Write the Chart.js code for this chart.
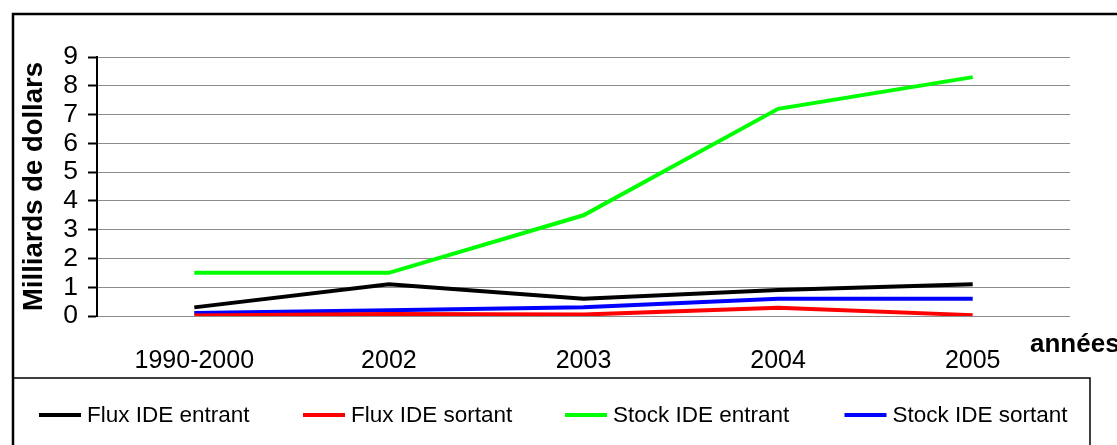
<!DOCTYPE html>
<html>
<head>
<meta charset="utf-8">
<title>IDE</title>
<script src="https://cdn.jsdelivr.net/npm/chart.js@4/dist/chart.umd.min.js"></script>
<style>
  html, body { margin: 0; padding: 0; background: #ffffff; overflow: hidden; }
  #wrap { position: relative; width: 1117px; height: 445px; }
</style>
</head>
<body>
<div id="wrap"><canvas id="chart"></canvas></div>
<script>
// Années et séries (milliards de dollars)
const categories = ['1990-2000', '2002', '2003', '2004', '2005'];
const fluxEntrant  = [0.3, 1.1, 0.6, 0.9, 1.1];
const fluxSortant  = [0.02, 0.07, 0.05, 0.29, 0.03];
const stockEntrant = [1.5, 1.5, 3.5, 7.2, 8.3];
const stockSortant = [0.1, 0.2, 0.3, 0.6, 0.6];
const seriesLabels = ['Flux IDE entrant', 'Flux IDE sortant', 'Stock IDE entrant', 'Stock IDE sortant'];
const seriesColors = ['#000000', '#ff0000', '#00ff00', '#0000ff'];
const yAxisTitle = 'Milliards de dollars';
const xAxisName = 'années';

const FONT = "'Liberation Sans', Arial, Helvetica, sans-serif";

// Cadre extérieur, boîte de légende, légende et nom de l'axe des abscisses
const decor = {
  id: 'decor',
  beforeDraw(chart) {
    const ctx = chart.ctx;
    ctx.save();
    ctx.strokeStyle = '#000';
    ctx.lineWidth = 2.5;
    ctx.strokeRect(13, 14, 1200, 500);
    ctx.lineWidth = 1.5;
    ctx.strokeRect(13, 378, 1077, 200);
    ctx.restore();
  },
  afterDraw(chart) {
    const ctx = chart.ctx;
    const starts = [39, 303, 565, 844.5];
    const y = 415;
    ctx.save();
    chart.data.datasets.forEach((ds, i) => {
      const x0 = starts[i];
      ctx.strokeStyle = ds.borderColor;
      ctx.lineWidth = 4;
      ctx.beginPath();
      ctx.moveTo(x0, y);
      ctx.lineTo(x0 + 42, y);
      ctx.stroke();
      ctx.fillStyle = '#000';
      ctx.font = '22.5px ' + FONT;
      ctx.textBaseline = 'middle';
      ctx.textAlign = 'left';
      ctx.fillText(ds.label, x0 + 48, y + 1);
    });
    ctx.font = 'bold 26px ' + FONT;
    ctx.textBaseline = 'alphabetic';
    ctx.fillText(xAxisName, 1030, 352);
    ctx.restore();
  }
};

const seriesData = [fluxEntrant, fluxSortant, stockEntrant, stockSortant];

new Chart(document.getElementById('chart'), {
  type: 'line',
  data: {
    labels: categories,
    datasets: seriesData.map((values, i) => ({
      label: seriesLabels[i],
      data: values,
      borderColor: seriesColors[i],
      backgroundColor: seriesColors[i],
      borderWidth: 4,
      pointRadius: 0,
      pointHoverRadius: 0,
      tension: 0,
      fill: false
    }))
  },
  options: {
    responsive: true,
    maintainAspectRatio: false,
    animation: false,
    devicePixelRatio: 1,
    layout: { padding: { top: 57, right: 47, left: 0, bottom: 0 } },
    plugins: {
      legend: { display: false },
      tooltip: { enabled: false },
      title: { display: false }
    },
    scales: {
      x: {
        type: 'category',
        offset: true,
        grid: { display: false, drawTicks: false },
        border: { display: false },
        ticks: {
          color: '#000',
          font: { family: FONT, size: 25 },
          padding: 30,
          maxRotation: 0,
          autoSkip: false
        },
        afterFit(scale) { scale.height = 129; }
      },
      y: {
        min: 0,
        max: 9,
        grid: {
          color: '#8c8c8c',
          lineWidth: 1,
          drawTicks: true,
          tickLength: 9,
          tickColor: '#000',
          tickWidth: 2
        },
        border: { display: true, color: '#000', width: 2 },
        ticks: {
          stepSize: 1,
          autoSkip: false,
          color: '#000',
          font: { family: FONT, size: 26.5 },
          padding: 10
        },
        title: {
          display: true,
          text: yAxisTitle,
          color: '#000',
          font: { family: FONT, size: 27.5, weight: 'bold', lineHeight: 1 },
          padding: { top: 21, bottom: 0 }
        },
        afterFit(scale) { scale.width = 97; }
      }
    }
  },
  plugins: [decor]
});
</script>
</body>
</html>
